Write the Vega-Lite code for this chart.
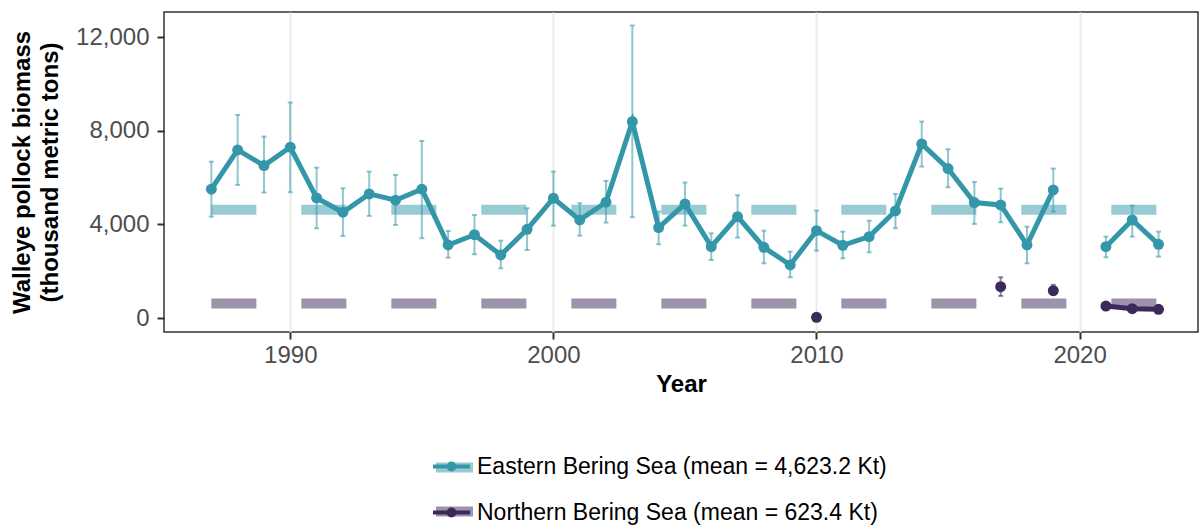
{
  "$schema": "https://vega.github.io/schema/vega-lite/v6.json",
  "width": 1034,
  "height": 320,
  "autosize": {"type": "none"},
  "padding": {"left": 164, "top": 12, "right": 1, "bottom": 193},
  "background": "white",
  "config": {
    "font": "Liberation Sans",
    "view": {"stroke": "#333333", "strokeWidth": 1.5},
    "axis": {
      "domain": false,
      "tickColor": "#333333",
      "tickWidth": 2,
      "tickSize": 7,
      "labelFontSize": 24,
      "labelColor": "#4D4D4D",
      "titleFontSize": 24,
      "titleFontWeight": "bold",
      "titleColor": "black",
      "titleFont": "Liberation Sans"
    },
    "axisX": {"grid": true, "gridColor": "#EBEBEB", "gridWidth": 2, "labelPadding": 4, "titlePadding": 5},
    "axisY": {"grid": false, "labelPadding": 8, "titlePadding": 13, "titleLineHeight": 28}
  },
  "datasets": {
    "obs": [
      {"year": 1987, "series": "Eastern Bering Sea", "grp": "E1", "value": 5506, "lo": 4334, "hi": 6687},
      {"year": 1988, "series": "Eastern Bering Sea", "grp": "E1", "value": 7187, "lo": 5690, "hi": 8684},
      {"year": 1989, "series": "Eastern Bering Sea", "grp": "E1", "value": 6516, "lo": 5361, "hi": 7757},
      {"year": 1990, "series": "Eastern Bering Sea", "grp": "E1", "value": 7302, "lo": 5377, "hi": 9211},
      {"year": 1991, "series": "Eastern Bering Sea", "grp": "E1", "value": 5134, "lo": 3837, "hi": 6430},
      {"year": 1992, "series": "Eastern Bering Sea", "grp": "E1", "value": 4522, "lo": 3508, "hi": 5548},
      {"year": 1993, "series": "Eastern Bering Sea", "grp": "E1", "value": 5305, "lo": 4364, "hi": 6259},
      {"year": 1994, "series": "Eastern Bering Sea", "grp": "E1", "value": 5035, "lo": 3979, "hi": 6118},
      {"year": 1995, "series": "Eastern Bering Sea", "grp": "E1", "value": 5506, "lo": 3409, "hi": 7572},
      {"year": 1996, "series": "Eastern Bering Sea", "grp": "E1", "value": 3123, "lo": 2580, "hi": 3722},
      {"year": 1997, "series": "Eastern Bering Sea", "grp": "E1", "value": 3560, "lo": 2725, "hi": 4406},
      {"year": 1998, "series": "Eastern Bering Sea", "grp": "E1", "value": 2695, "lo": 2126, "hi": 3307},
      {"year": 1999, "series": "Eastern Bering Sea", "grp": "E1", "value": 3794, "lo": 2909, "hi": 4693},
      {"year": 2000, "series": "Eastern Bering Sea", "grp": "E1", "value": 5120, "lo": 3949, "hi": 6259},
      {"year": 2001, "series": "Eastern Bering Sea", "grp": "E1", "value": 4193, "lo": 3521, "hi": 4906},
      {"year": 2002, "series": "Eastern Bering Sea", "grp": "E1", "value": 4949, "lo": 4078, "hi": 5861},
      {"year": 2003, "series": "Eastern Bering Sea", "grp": "E1", "value": 8398, "lo": 4308, "hi": 12505},
      {"year": 2004, "series": "Eastern Bering Sea", "grp": "E1", "value": 3865, "lo": 3153, "hi": 4549},
      {"year": 2005, "series": "Eastern Bering Sea", "grp": "E1", "value": 4877, "lo": 3949, "hi": 5790},
      {"year": 2006, "series": "Eastern Bering Sea", "grp": "E1", "value": 3050, "lo": 2481, "hi": 3622},
      {"year": 2007, "series": "Eastern Bering Sea", "grp": "E1", "value": 4334, "lo": 3437, "hi": 5249},
      {"year": 2008, "series": "Eastern Bering Sea", "grp": "E1", "value": 3022, "lo": 2338, "hi": 3735},
      {"year": 2009, "series": "Eastern Bering Sea", "grp": "E1", "value": 2267, "lo": 1740, "hi": 2838},
      {"year": 2010, "series": "Eastern Bering Sea", "grp": "E1", "value": 3735, "lo": 2880, "hi": 4591},
      {"year": 2011, "series": "Eastern Bering Sea", "grp": "E1", "value": 3110, "lo": 2552, "hi": 3693},
      {"year": 2012, "series": "Eastern Bering Sea", "grp": "E1", "value": 3479, "lo": 2811, "hi": 4163},
      {"year": 2013, "series": "Eastern Bering Sea", "grp": "E1", "value": 4577, "lo": 3837, "hi": 5305},
      {"year": 2014, "series": "Eastern Bering Sea", "grp": "E1", "value": 7444, "lo": 6473, "hi": 8398},
      {"year": 2015, "series": "Eastern Bering Sea", "grp": "E1", "value": 6388, "lo": 5591, "hi": 7216},
      {"year": 2016, "series": "Eastern Bering Sea", "grp": "E1", "value": 4934, "lo": 4021, "hi": 5818},
      {"year": 2017, "series": "Eastern Bering Sea", "grp": "E1", "value": 4834, "lo": 4092, "hi": 5533},
      {"year": 2018, "series": "Eastern Bering Sea", "grp": "E1", "value": 3123, "lo": 2338, "hi": 3906},
      {"year": 2019, "series": "Eastern Bering Sea", "grp": "E1", "value": 5476, "lo": 4549, "hi": 6388},
      {"year": 2021, "series": "Eastern Bering Sea", "grp": "E2", "value": 3050, "lo": 2595, "hi": 3479},
      {"year": 2022, "series": "Eastern Bering Sea", "grp": "E2", "value": 4193, "lo": 3479, "hi": 4806},
      {"year": 2023, "series": "Eastern Bering Sea", "grp": "E2", "value": 3151, "lo": 2623, "hi": 3693},
      {"year": 2010, "series": "Northern Bering Sea", "grp": "N1", "value": 30, "lo": 10, "hi": 50},
      {"year": 2017, "series": "Northern Bering Sea", "grp": "N2", "value": 1340, "lo": 941, "hi": 1741},
      {"year": 2019, "series": "Northern Bering Sea", "grp": "N3", "value": 1168, "lo": 1000, "hi": 1420},
      {"year": 2021, "series": "Northern Bering Sea", "grp": "N4", "value": 513, "lo": 440, "hi": 590},
      {"year": 2022, "series": "Northern Bering Sea", "grp": "N4", "value": 398, "lo": 340, "hi": 460},
      {"year": 2023, "series": "Northern Bering Sea", "grp": "N4", "value": 372, "lo": 320, "hi": 430}
    ],
    "means": [
      {"band": "EBS", "year": 1987, "year_end": 2023, "value": 4623.2},
      {"band": "NBS", "year": 1987, "year_end": 2023, "value": 623.4}
    ]
  },
  "layer": [
    {
      "data": {"name": "means"},
      "mark": {"type": "rule", "strokeWidth": 10, "strokeDash": [45, 45], "opacity": 0.5},
      "encoding": {
        "x": {"field": "year", "type": "quantitative", "title": "Year",
              "scale": {"domain": [1985.2, 2024.5], "nice": false, "zero": false},
              "axis": {"values": [1990, 2000, 2010, 2020], "format": "d"}},
        "x2": {"field": "year_end"},
        "y": {"field": "value", "type": "quantitative", "title": ["Walleye pollock biomass", "(thousand metric tons)"],
              "scale": {"domain": [-598, 13082], "nice": false, "zero": false},
              "axis": {"values": [0, 4000, 8000, 12000], "format": ",d"}},
        "stroke": {"field": "band", "type": "nominal",
                   "scale": {"domain": ["EBS", "NBS"], "range": ["#3497A9", "#3B2A5A"]},
                   "legend": {"orient": "none", "legendX": 267, "legendY": 432, "direction": "vertical", "title": null,
                              "symbolType": "stroke", "symbolSize": 1369, "symbolStrokeWidth": 10, "symbolOpacity": 0.5,
                              "labelFontSize": 23, "labelOffset": 5, "rowPadding": 0, "zindex": 1,
                              "labelExpr": "''"}}
      }
    },
    {
      "data": {"name": "obs"},
      "mark": {"type": "errorbar", "ticks": {"size": 5, "thickness": 2, "opacity": 0.55}, "rule": {"strokeWidth": 2, "opacity": 0.55}},
      "encoding": {
        "x": {"field": "year", "type": "quantitative", "title": "Year",
              "axis": {"values": [1990, 2000, 2010, 2020], "format": "d"}},
        "y": {"field": "lo", "type": "quantitative", "title": ["Walleye pollock biomass", "(thousand metric tons)"],
              "axis": {"values": [0, 4000, 8000, 12000], "format": ",d"}},
        "y2": {"field": "hi"},
        "color": {"field": "series", "type": "nominal"}
      }
    },
    {
      "data": {"name": "obs"},
      "mark": {"type": "line", "strokeWidth": 5},
      "encoding": {
        "x": {"field": "year", "type": "quantitative", "title": "Year",
              "axis": {"values": [1990, 2000, 2010, 2020], "format": "d"}},
        "y": {"field": "value", "type": "quantitative", "title": ["Walleye pollock biomass", "(thousand metric tons)"],
              "axis": {"values": [0, 4000, 8000, 12000], "format": ",d"}},
        "detail": {"field": "grp"},
        "color": {"field": "series", "type": "nominal",
                  "scale": {"domain": ["Eastern Bering Sea", "Northern Bering Sea"], "range": ["#3497A9", "#3B2A5A"]},
                  "legend": {"orient": "none", "legendX": 267, "legendY": 434, "direction": "vertical", "title": null,
                             "symbolType": "M-1,0H1M0.16,0A0.16,0.16 0 1,1 -0.16,0A0.16,0.16 0 1,1 0.16,0",
                             "symbolSize": 1369, "symbolStrokeWidth": 4, "symbolOpacity": 1,
                             "labelFontSize": 23, "labelColor": "black", "labelOffset": 5, "labelLimit": 700, "rowPadding": 13, "zindex": 2,
                             "labelExpr": "datum.value == 'Eastern Bering Sea' ? 'Eastern Bering Sea (mean = 4,623.2 Kt)' : 'Northern Bering Sea (mean = 623.4 Kt)'",
                             "encode": {"symbols": {"update": {"fill": {"scale": "color", "field": "value"}, "stroke": {"scale": "color", "field": "value"}}}}}}
      }
    },
    {
      "data": {"name": "obs"},
      "mark": {"type": "point", "filled": true, "size": 120, "opacity": 1},
      "encoding": {
        "x": {"field": "year", "type": "quantitative", "title": "Year",
              "axis": {"values": [1990, 2000, 2010, 2020], "format": "d"}},
        "y": {"field": "value", "type": "quantitative", "title": ["Walleye pollock biomass", "(thousand metric tons)"],
              "axis": {"values": [0, 4000, 8000, 12000], "format": ",d"}},
        "color": {"field": "series", "type": "nominal"}
      }
    }
  ]
}
